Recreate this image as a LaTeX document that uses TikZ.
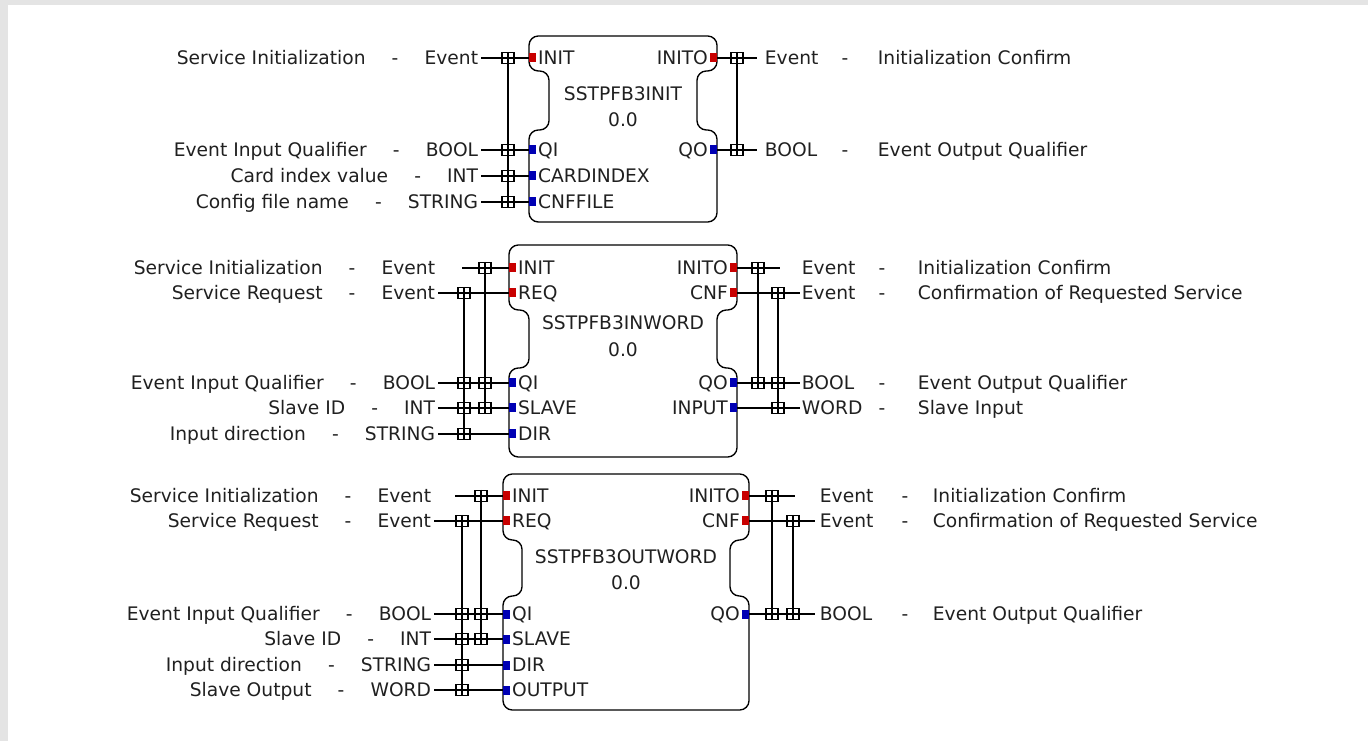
\documentclass[tikz,border=0pt]{standalone}
\usepackage{fontspec}
\setmainfont{DejaVu Sans}
\definecolor{evred}{HTML}{C80000}
\definecolor{dtblue}{HTML}{0000B4}
\definecolor{framegray}{HTML}{E4E4E4}
\definecolor{inkgray}{HTML}{202020}

\tikzset{
  wire/.style={line width=1pt},
  fbox/.style={line width=1pt, rounded corners=7pt},
  txt/.style={inner sep=2pt, text height=10.2pt, text depth=0pt, text=inkgray},
  pin/.style={minimum width=5.25pt, minimum height=6.75pt, inner sep=0pt},
  pintext/.style={txt, inner sep=1pt},
  jbox/.style={draw, line width=0.9pt, minimum width=9pt, minimum height=8.25pt, inner sep=0pt},
}
\newcommand\sep{\hspace{1.4em}-\hspace{1.4em}}
% block outline: left, right, top, bottom, notch top, notch bottom, notch depth
\newcommand\fbshape[7]{%
  \draw[fbox] ({(#1+#2)/2},#3) -- (#2,#3) -- (#2,#5) -- ({#2-#7},#5) -- ({#2-#7},#6)
    -- (#2,#6) -- (#2,#4) -- (#1,#4) -- (#1,#6) -- ({#1+#7},#6) -- ({#1+#7},#5)
    -- (#1,#5) -- (#1,#3) -- cycle;}
\newcommand\inpin[5]{%
  \node[pin, fill=#4, anchor=west] (#1) at (#2,#3) {};
  \node[pintext, anchor=west] (#1-t) at (#1.east) {#5};}
\newcommand\outpin[5]{%
  \node[pin, fill=#4, anchor=east] (#1) at (#2,#3) {};
  \node[pintext, anchor=east] (#1-t) at (#1.west) {#5};}
\newcommand\inlabel[4]{\node[txt, anchor=east] (#1) at (#2,#3) {#4};}
% name, type x, dash x, text x, y, type, description
\newcommand\outlabel[7]{%
  \node[txt, anchor=west] (#1) at (#2,#5) {#6};
  \node[txt] (#1-d) at (#3,#5) {-};
  \node[txt, anchor=west] (#1-x) at (#4,#5) {#7};}

\begin{document}
\begin{tikzpicture}[x=0.75pt, y=-0.75pt, font=\fontsize{14pt}{16pt}\selectfont]
  \fill[framegray] (0,0) rectangle (1368,741);
  \fill[white] (8,5) rectangle (1368,741);

  % SSTPFB3INIT
  \fbshape{529}{717}{36}{222}{71}{130}{20}
  \node[txt] (a-name) at (623,94) {SSTPFB3INIT};
  \node[txt] (a-ver) at (623,120) {0.0};
  \inpin{a-init}{529}{58}{evred}{INIT}
  \inpin{a-qi}{529}{150}{dtblue}{QI}
  \inpin{a-card}{529}{176}{dtblue}{CARDINDEX}
  \inpin{a-cnf}{529}{202}{dtblue}{CNFFILE}
  \outpin{a-inito}{717}{58}{evred}{INITO}
  \outpin{a-qo}{717}{150}{dtblue}{QO}
  \inlabel{a-init-l}{481}{58}{Service Initialization\sep Event}
  \inlabel{a-qi-l}{481}{150}{Event Input Qualifier\sep BOOL}
  \inlabel{a-card-l}{481}{176}{Card index value\sep INT}
  \inlabel{a-cnf-l}{481}{202}{Config file name\sep STRING}
  \foreach \p in {init,qi,card,cnf} \draw[wire] (a-\p-l) -- (a-\p);
  \foreach \y [count=\i] in {58,150,176,202} \node[jbox] (a-j\i) at (508,\y) {};
  \draw[wire] (a-j1.north) -- (a-j4.south);
  \coordinate (a-inito-e) at (757,58);
  \coordinate (a-qo-e) at (757,150);
  \draw[wire] (a-inito) -- (a-inito-e);
  \draw[wire] (a-qo) -- (a-qo-e);
  \foreach \y [count=\i] in {58,150} \node[jbox] (a-k\i) at (737,\y) {};
  \draw[wire] (a-k1.north) -- (a-k2.south);
  \outlabel{a-inito-r}{762}{845}{875}{58}{Event}{Initialization Confirm}
  \outlabel{a-qo-r}{762}{845}{875}{150}{BOOL}{Event Output Qualifier}

  % SSTPFB3INWORD
  \fbshape{509}{737}{245}{457}{310}{368}{20}
  \node[txt] (b-name) at (623,323) {SSTPFB3INWORD};
  \node[txt] (b-ver) at (623,350) {0.0};
  \inpin{b-init}{509}{268}{evred}{INIT}
  \inpin{b-req}{509}{293}{evred}{REQ}
  \inpin{b-qi}{509}{383}{dtblue}{QI}
  \inpin{b-slave}{509}{408}{dtblue}{SLAVE}
  \inpin{b-dir}{509}{434}{dtblue}{DIR}
  \outpin{b-inito}{737}{268}{evred}{INITO}
  \outpin{b-cnf}{737}{293}{evred}{CNF}
  \outpin{b-qo}{737}{383}{dtblue}{QO}
  \outpin{b-input}{737}{408}{dtblue}{INPUT}
  \inlabel{b-init-l}{438}{268}{Service Initialization\sep Event}
  \inlabel{b-req-l}{438}{293}{Service Request\sep Event}
  \inlabel{b-qi-l}{438}{383}{Event Input Qualifier\sep BOOL}
  \inlabel{b-slave-l}{438}{408}{Slave ID\sep INT}
  \inlabel{b-dir-l}{438}{434}{Input direction\sep STRING}
  \coordinate (b-init-s) at (462,268);
  \draw[wire] (b-init-s) -- (b-init);
  \foreach \p in {req,qi,slave,dir} \draw[wire] (b-\p-l) -- (b-\p);
  \foreach \y [count=\i] in {268,383,408} \node[jbox] (b-ji\i) at (485,\y) {};
  \draw[wire] (b-ji1.north) -- (b-ji3.south);
  \foreach \y [count=\i] in {293,383,408,434} \node[jbox] (b-jr\i) at (464,\y) {};
  \draw[wire] (b-jr1.north) -- (b-jr4.south);
  \coordinate (b-inito-e) at (780,268);
  \coordinate (b-cnf-e) at (800,293);
  \coordinate (b-qo-e) at (800,383);
  \coordinate (b-input-e) at (800,408);
  \foreach \p in {inito,cnf,qo,input} \draw[wire] (b-\p) -- (b-\p-e);
  \foreach \y [count=\i] in {268,383} \node[jbox] (b-ki\i) at (758,\y) {};
  \draw[wire] (b-ki1.north) -- (b-ki2.south);
  \foreach \y [count=\i] in {293,383,408} \node[jbox] (b-kc\i) at (778,\y) {};
  \draw[wire] (b-kc1.north) -- (b-kc3.south);
  \outlabel{b-inito-r}{799}{882}{915}{268}{Event}{Initialization Confirm}
  \outlabel{b-cnf-r}{799}{882}{915}{293}{Event}{Confirmation of Requested Service}
  \outlabel{b-qo-r}{799}{882}{915}{383}{BOOL}{Event Output Qualifier}
  \outlabel{b-input-r}{799}{882}{915}{408}{WORD}{Slave Input}

  % SSTPFB3OUTWORD
  \fbshape{503}{749}{474}{710}{540}{596}{19}
  \node[txt] (c-name) at (626,557) {SSTPFB3OUTWORD};
  \node[txt] (c-ver) at (626,583) {0.0};
  \inpin{c-init}{503}{496}{evred}{INIT}
  \inpin{c-req}{503}{521}{evred}{REQ}
  \inpin{c-qi}{503}{614}{dtblue}{QI}
  \inpin{c-slave}{503}{639}{dtblue}{SLAVE}
  \inpin{c-dir}{503}{665}{dtblue}{DIR}
  \inpin{c-output}{503}{690}{dtblue}{OUTPUT}
  \outpin{c-inito}{749}{496}{evred}{INITO}
  \outpin{c-cnf}{749}{521}{evred}{CNF}
  \outpin{c-qo}{749}{614}{dtblue}{QO}
  \inlabel{c-init-l}{434}{496}{Service Initialization\sep Event}
  \inlabel{c-req-l}{434}{521}{Service Request\sep Event}
  \inlabel{c-qi-l}{434}{614}{Event Input Qualifier\sep BOOL}
  \inlabel{c-slave-l}{434}{639}{Slave ID\sep INT}
  \inlabel{c-dir-l}{434}{665}{Input direction\sep STRING}
  \inlabel{c-output-l}{434}{690}{Slave Output\sep WORD}
  \coordinate (c-init-s) at (455,496);
  \draw[wire] (c-init-s) -- (c-init);
  \foreach \p in {req,qi,slave,dir,output} \draw[wire] (c-\p-l) -- (c-\p);
  \foreach \y [count=\i] in {496,614,639} \node[jbox] (c-ji\i) at (481,\y) {};
  \draw[wire] (c-ji1.north) -- (c-ji3.south);
  \foreach \y [count=\i] in {521,614,639,665,690} \node[jbox] (c-jr\i) at (462,\y) {};
  \draw[wire] (c-jr1.north) -- (c-jr5.south);
  \coordinate (c-inito-e) at (795,496);
  \coordinate (c-cnf-e) at (815,521);
  \coordinate (c-qo-e) at (815,614);
  \foreach \p in {inito,cnf,qo} \draw[wire] (c-\p) -- (c-\p-e);
  \foreach \y [count=\i] in {496,614} \node[jbox] (c-ki\i) at (772,\y) {};
  \draw[wire] (c-ki1.north) -- (c-ki2.south);
  \foreach \y [count=\i] in {521,614} \node[jbox] (c-kc\i) at (793,\y) {};
  \draw[wire] (c-kc1.north) -- (c-kc2.south);
  \outlabel{c-inito-r}{817}{905}{930}{496}{Event}{Initialization Confirm}
  \outlabel{c-cnf-r}{817}{905}{930}{521}{Event}{Confirmation of Requested Service}
  \outlabel{c-qo-r}{817}{905}{930}{614}{BOOL}{Event Output Qualifier}
\end{tikzpicture}
\end{document}
